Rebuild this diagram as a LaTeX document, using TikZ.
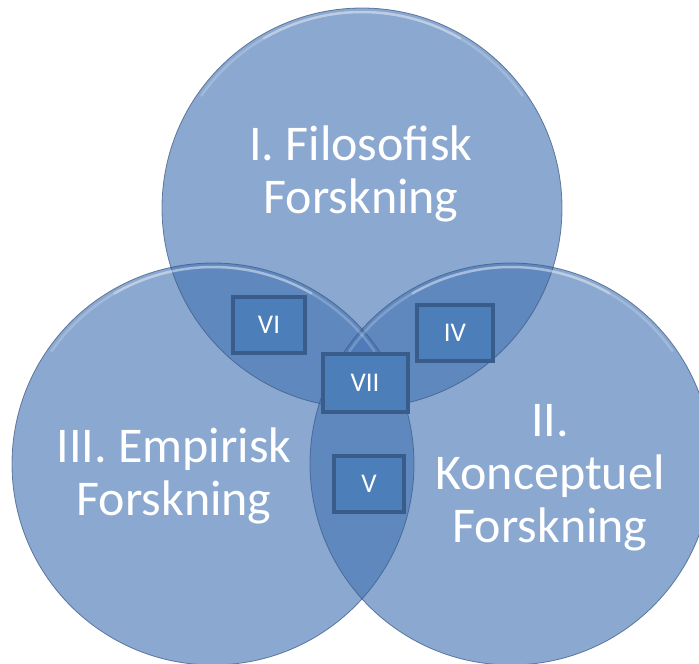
\documentclass[tikz,border=0pt]{standalone}
\usepackage{fontspec}
\setmainfont{Carlito}
\usetikzlibrary{calc}
\definecolor{vennblue}{RGB}{70,117,181}
\definecolor{vennedge}{RGB}{62,92,132}
\definecolor{boxfill}{RGB}{76,126,186}
\definecolor{boxedge}{RGB}{58,92,138}
\begin{document}
\begin{tikzpicture}[x=1pt,y=-1pt,
  venn/.style={fill=vennblue, fill opacity=0.63},
  vennline/.style={draw=vennedge, draw opacity=0.75, line width=0.8pt},
  shine/.style={draw=white, line width=2.5pt, line cap=round},
  lbl/.style={text=white, align=center, inner sep=0pt, font=\fontsize{50}{53}\selectfont},
  zonebox/.style={fill=boxfill, draw=boxedge, line width=4pt, text=white, inner sep=0pt,
    font=\fontsize{27}{30}\selectfont},
]
\useasboundingbox (0,0) rectangle (699,664);
\coordinate (ctop) at (362,208);
\coordinate (cleft) at (213,464);
\coordinate (cright) at (511,464);
% circles
\fill[venn] (ctop) circle[radius=200pt];
\fill[venn] (cright) circle[radius=201pt];
\fill[venn] (cleft) circle[radius=201pt];
\draw[vennline] (ctop) circle[radius=200pt];
\draw[vennline] (cright) circle[radius=201pt];
\draw[vennline] (cleft) circle[radius=201pt];
% top bevel highlights
\foreach \c/\r in {ctop/196, cright/197, cleft/197}{
  \draw[shine, opacity=0.2] ($(\c)+(35:\r pt)$) arc[start angle=35, end angle=145, radius=\r pt];
  \draw[shine, opacity=0.3] ($(\c)+(60:\r pt)$) arc[start angle=60, end angle=120, radius=\r pt];
}
% labels
\node[lbl] (ltop) at (361,174) {I. Filosofisk\\Forskning};
\node[lbl] (lleft) at (174,476) {III. Empirisk\\Forskning};
\node[lbl] (lright) at (550,478) {II.\\Konceptuel\\Forskning};
% zone boxes
\node[zonebox, minimum width=72pt, minimum height=56pt] (vi) at (269,325) {VI};
\node[zonebox, minimum width=76pt, minimum height=56pt] (iv) at (455,333) {IV};
\node[zonebox, minimum width=85pt, minimum height=58pt] (vii) at (365,383) {VII};
\node[zonebox, minimum width=70pt, minimum height=56pt] (v) at (369,484) {V};
\end{tikzpicture}
\end{document}
